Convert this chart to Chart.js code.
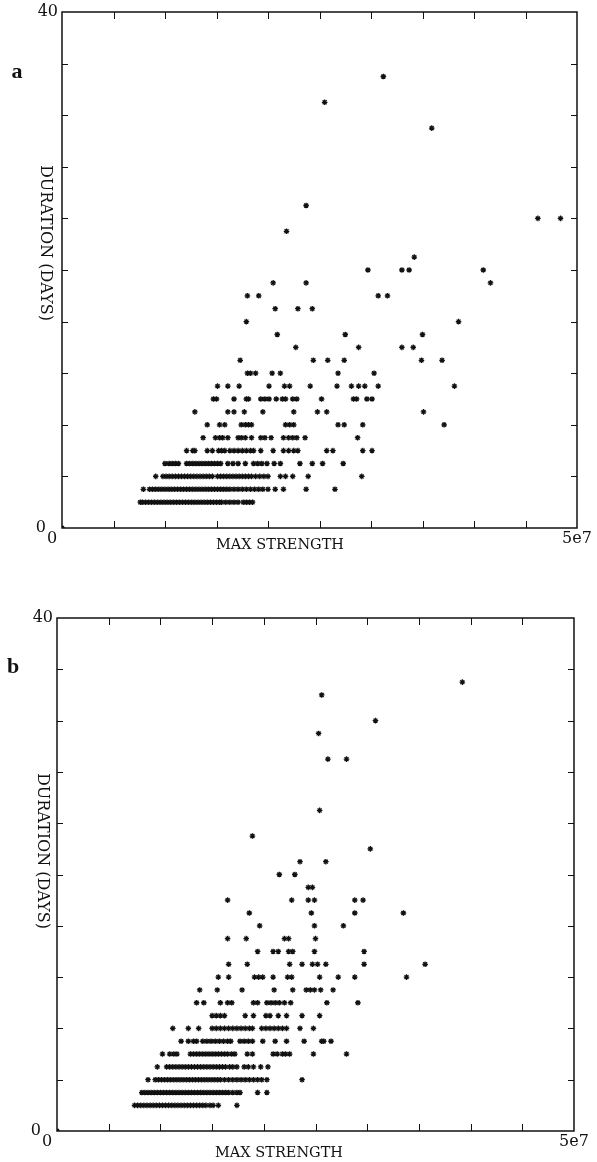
<!DOCTYPE html>
<html>
<head>
<meta charset="utf-8">
<script src="https://cdn.jsdelivr.net/npm/chart.js@4.4.1/dist/chart.umd.min.js"></script>
<style>
  html, body { margin: 0; padding: 0; background: #fff; }
  body { position: relative; width: 597px; height: 1162px; overflow: hidden; }
  canvas { position: absolute; left: 0; }
  #chartA { top: 0; }
  #chartB { top: 580px; }
</style>
</head>
<body>
<canvas id="chartA" width="597" height="580"></canvas>
<canvas id="chartB" width="597" height="582"></canvas>
<script>
// Axis ticks (x in raw strength units, y in days)
const xTicks = [0, 5e6, 1e7, 1.5e7, 2e7, 2.5e7, 3e7, 3.5e7, 4e7, 4.5e7, 5e7];
const yTicks = [0, 4, 8, 12, 16, 20, 24, 28, 32, 36, 40];
const xTickLabels = ['0', '5e7'];
const yTickLabels = ['0', '40'];

// Panel a: durations (days) and the max strengths seen at each duration (units of 1e6)
const daysA = [0, 2, 3, 4, 5, 6, 7, 8, 9, 10, 11, 12, 13, 14, 15, 16, 17, 18, 19, 20, 21, 23, 24, 25, 31, 33, 35];
const strengthA = [
    [0],
    [7.6, 7.8, 8.1, 8.4, 8.7, 9.0, 9.3, 9.6, 9.9, 10.2, 10.5, 10.8, 11.1, 11.4, 11.7, 12.0, 12.3, 12.6, 12.9, 13.2, 13.5, 13.8, 14.1, 14.4, 14.7, 15.0, 15.3, 15.5, 15.9, 16.3, 16.7, 17.1, 17.6, 17.9, 18.2, 18.5],
    [7.9, 8.5, 8.8, 9.1, 9.4, 9.7, 10.0, 10.3, 10.6, 10.9, 11.2, 11.5, 11.8, 12.1, 12.4, 12.7, 13.0, 13.3, 13.6, 13.9, 14.2, 14.5, 14.8, 15.1, 15.4, 15.7, 16.0, 16.3, 16.7, 17.1, 17.5, 17.9, 18.3, 18.7, 19.1, 19.5, 20.0, 20.7, 21.5, 23.7, 26.5],
    [9.1, 9.8, 10.1, 10.4, 10.7, 11.0, 11.3, 11.6, 11.9, 12.2, 12.5, 12.8, 13.1, 13.4, 13.7, 14.0, 14.3, 14.6, 15.1, 15.4, 15.7, 16.0, 16.3, 16.6, 16.9, 17.2, 17.5, 17.8, 18.1, 18.4, 18.8, 19.2, 19.6, 20.0, 21.2, 21.7, 22.4, 23.9, 29.1],
    [10.0, 10.4, 10.7, 11.0, 11.3, 12.1, 12.4, 12.7, 13.0, 13.3, 13.6, 13.9, 14.2, 14.5, 14.8, 15.1, 15.4, 16.1, 16.6, 17.1, 17.8, 18.6, 19.0, 19.4, 19.9, 20.6, 21.2, 23.1, 24.3, 25.3, 27.3],
    [12.1, 12.7, 12.9, 14.1, 14.6, 15.2, 15.5, 15.8, 16.3, 16.7, 17.1, 17.5, 17.9, 18.3, 18.6, 19.3, 20.5, 21.5, 22.0, 22.5, 22.9, 25.7, 26.3, 29.2, 30.1],
    [13.7, 14.9, 15.3, 15.6, 16.1, 17.1, 17.4, 17.8, 18.4, 19.3, 19.7, 20.3, 21.5, 22.0, 22.4, 22.8, 23.6, 28.7],
    [14.1, 15.3, 15.8, 17.4, 17.8, 18.1, 18.4, 21.7, 22.1, 22.5, 26.8, 27.4, 29.2, 37.1],
    [12.9, 16.1, 16.7, 17.7, 19.5, 22.5, 24.8, 25.7, 35.1],
    [14.7, 15.0, 16.7, 17.9, 18.1, 19.3, 19.7, 20.1, 20.8, 21.4, 21.7, 22.4, 22.8, 25.2, 28.3, 28.6, 29.6, 30.1],
    [15.1, 16.1, 17.2, 20.1, 21.6, 22.1, 24.1, 26.7, 28.1, 28.8, 29.4, 30.7, 38.1],
    [18.0, 18.3, 18.8, 20.4, 21.2, 26.8, 30.3],
    [17.3, 24.4, 25.8, 27.4, 34.9, 36.9],
    [22.7, 28.8, 33.0, 34.1],
    [20.9, 27.5, 35.0],
    [17.9, 38.5],
    [20.7, 22.9, 24.3],
    [18.0, 19.1, 30.7, 31.6],
    [20.5, 23.7, 41.6],
    [29.7, 33.0, 33.7, 40.9],
    [34.2],
    [21.8],
    [46.2, 48.4],
    [23.7],
    [35.9],
    [25.5],
    [31.2]
];

// Panel b
const daysB = [0, 2, 3, 4, 5, 6, 7, 8, 9, 10, 11, 12, 13, 14, 15, 16, 17, 18, 19, 20, 21, 22, 23, 25, 29, 31, 32, 34, 35];
const strengthB = [
    [0],
    [7.5, 7.8, 8.1, 8.4, 8.7, 9.0, 9.3, 9.6, 9.9, 10.2, 10.5, 10.8, 11.1, 11.4, 11.7, 12.0, 12.3, 12.6, 12.9, 13.2, 13.5, 13.8, 14.1, 14.4, 14.8, 15.1, 15.6, 17.4],
    [8.2, 8.5, 8.8, 9.1, 9.4, 9.7, 10.0, 10.3, 10.6, 10.9, 11.2, 11.5, 11.8, 12.1, 12.4, 12.7, 13.0, 13.3, 13.6, 13.9, 14.2, 14.5, 14.8, 15.1, 15.4, 15.7, 16.0, 16.3, 16.6, 17.0, 17.4, 17.7, 19.4, 20.3],
    [8.8, 9.5, 9.8, 10.1, 10.4, 10.7, 11.0, 11.3, 11.6, 11.9, 12.2, 12.5, 12.8, 13.1, 13.4, 13.7, 14.0, 14.3, 14.6, 14.9, 15.2, 15.5, 15.8, 16.2, 16.6, 17.0, 17.4, 17.8, 18.2, 18.6, 19.0, 19.4, 19.8, 20.3, 23.7],
    [9.7, 10.6, 10.9, 11.2, 11.5, 11.8, 12.1, 12.4, 12.7, 13.0, 13.3, 13.6, 13.9, 14.2, 14.5, 14.8, 15.1, 15.4, 15.7, 16.0, 16.3, 16.7, 17.0, 17.4, 18.1, 18.5, 19.0, 19.7, 20.4],
    [10.2, 10.9, 11.3, 11.6, 12.9, 13.2, 13.5, 13.8, 14.1, 14.4, 14.7, 15.0, 15.3, 15.6, 15.9, 16.2, 16.5, 16.9, 17.2, 18.4, 18.9, 20.9, 21.3, 21.8, 22.1, 22.5, 24.8, 28.0],
    [12.0, 12.7, 13.2, 13.5, 14.1, 14.5, 14.9, 15.3, 15.7, 16.1, 16.5, 16.8, 17.7, 18.1, 18.5, 18.9, 19.9, 21.1, 22.2, 23.9, 25.6, 25.8, 26.5],
    [11.2, 12.7, 13.7, 15.0, 15.4, 15.8, 16.2, 16.6, 17.0, 17.4, 17.8, 18.2, 18.6, 18.9, 19.8, 20.2, 20.6, 21.0, 21.4, 21.8, 22.2, 23.5, 24.8],
    [15.0, 15.4, 15.8, 16.2, 18.2, 19.0, 20.2, 20.6, 21.4, 22.2, 23.7, 25.4],
    [13.5, 14.2, 15.8, 16.5, 16.9, 19.0, 19.4, 20.3, 20.7, 21.1, 21.5, 22.0, 22.6, 26.1, 29.1],
    [13.8, 15.5, 17.9, 21.0, 22.8, 24.1, 24.5, 24.9, 25.5, 26.7],
    [15.6, 16.6, 19.1, 19.5, 19.9, 20.9, 22.3, 22.7, 25.4, 27.2, 28.8, 33.8],
    [16.6, 18.4, 22.5, 23.7, 24.7, 25.2, 26.0, 29.7, 35.6],
    [19.4, 20.9, 21.4, 22.4, 22.8, 24.9, 29.7],
    [16.5, 18.3, 22.0, 22.4, 25.0],
    [19.6, 24.9, 27.7],
    [18.6, 24.6, 28.8, 33.5],
    [16.5, 22.7, 24.3, 24.9, 28.8, 29.6],
    [24.3, 24.7],
    [21.5, 23.0],
    [23.5, 26.0],
    [30.3],
    [18.9],
    [25.4],
    [26.2, 28.0],
    [25.3],
    [30.8],
    [25.6],
    [39.2]
];

const SERIF = '"DejaVu Serif", "Liberation Serif", serif';

function toPoints(days, strengths) {
    const pts = [];
    days.forEach((d, i) => {
        strengths[i].forEach(s => pts.push({ x: s * 1e6, y: d }));
    });
    return pts;
}

// Frame, inward tick marks, labels and panel letter
const framePlugin = {
    id: 'frame',
    afterDraw(chart, args, opts) {
        const ctx = chart.ctx;
        const area = chart.chartArea;
        const xs = chart.scales.x;
        const ys = chart.scales.y;
        ctx.save();
        ctx.strokeStyle = '#111';
        ctx.lineWidth = 1.5;
        ctx.strokeRect(area.left, area.top, area.right - area.left, area.bottom - area.top);

        ctx.lineWidth = 1;
        ctx.beginPath();
        xTicks.slice(1, -1).forEach(v => {
            const px = Math.round(xs.getPixelForValue(v)) + 0.5;
            ctx.moveTo(px, area.bottom); ctx.lineTo(px, area.bottom - 7);
            ctx.moveTo(px, area.top); ctx.lineTo(px, area.top + 7);
        });
        yTicks.slice(1, -1).forEach(v => {
            const py = Math.round(ys.getPixelForValue(v)) + 0.5;
            ctx.moveTo(area.left, py); ctx.lineTo(area.left + 6, py);
            ctx.moveTo(area.right, py); ctx.lineTo(area.right - 6, py);
        });
        ctx.stroke();

        ctx.fillStyle = '#111';
        ctx.font = '16px ' + SERIF;
        ctx.textBaseline = 'middle';
        ctx.textAlign = 'right';
        ctx.fillText(yTickLabels[1], area.left - 4, ys.getPixelForValue(40));
        ctx.fillText(yTickLabels[0], area.left - 16, ys.getPixelForValue(0));
        ctx.textAlign = 'center';
        ctx.fillText(xTickLabels[0], xs.getPixelForValue(0) - 10, area.bottom + 11);
        ctx.fillText(xTickLabels[1], xs.getPixelForValue(5e7), area.bottom + 11);

        ctx.font = '14.5px ' + SERIF;
        ctx.fillText('MAX STRENGTH', opts.xTitle[0], opts.xTitle[1]);

        ctx.save();
        ctx.translate(opts.yTitle[0], opts.yTitle[1]);
        ctx.rotate(Math.PI / 2);
        ctx.font = '16px ' + SERIF;
        ctx.fillText('DURATION (DAYS)', 0, 0);
        ctx.restore();

        ctx.font = 'bold 22px "Liberation Serif", serif';
        ctx.fillText(opts.letter, opts.letterPos[0], opts.letterPos[1]);
        ctx.restore();
    }
};

function makeChart(id, points, padding, deco) {
    return new Chart(document.getElementById(id), {
        type: 'scatter',
        data: {
            datasets: [{
                data: points,
                pointStyle: 'star',
                radius: 2.8,
                borderWidth: 1.3,
                borderColor: '#111',
                backgroundColor: '#111'
            }]
        },
        options: {
            responsive: false,
            animation: false,
            events: [],
            layout: { padding: padding },
            plugins: {
                legend: { display: false },
                tooltip: { enabled: false },
                frame: deco
            },
            scales: {
                x: { type: 'linear', min: 0, max: 5e7, display: false },
                y: { type: 'linear', min: 0, max: 40, display: false }
            }
        },
        plugins: [framePlugin]
    });
}

makeChart('chartA', toPoints(daysA, strengthA),
    { left: 62, top: 12, right: 20, bottom: 52 },
    { letter: 'a', letterPos: [17, 72], xTitle: [280, 545], yTitle: [45, 243] });

makeChart('chartB', toPoints(daysB, strengthB),
    { left: 57, top: 38, right: 23, bottom: 31 },
    { letter: 'b', letterPos: [13, 87], xTitle: [279, 573], yTitle: [42, 271] });
</script>
</body>
</html>
